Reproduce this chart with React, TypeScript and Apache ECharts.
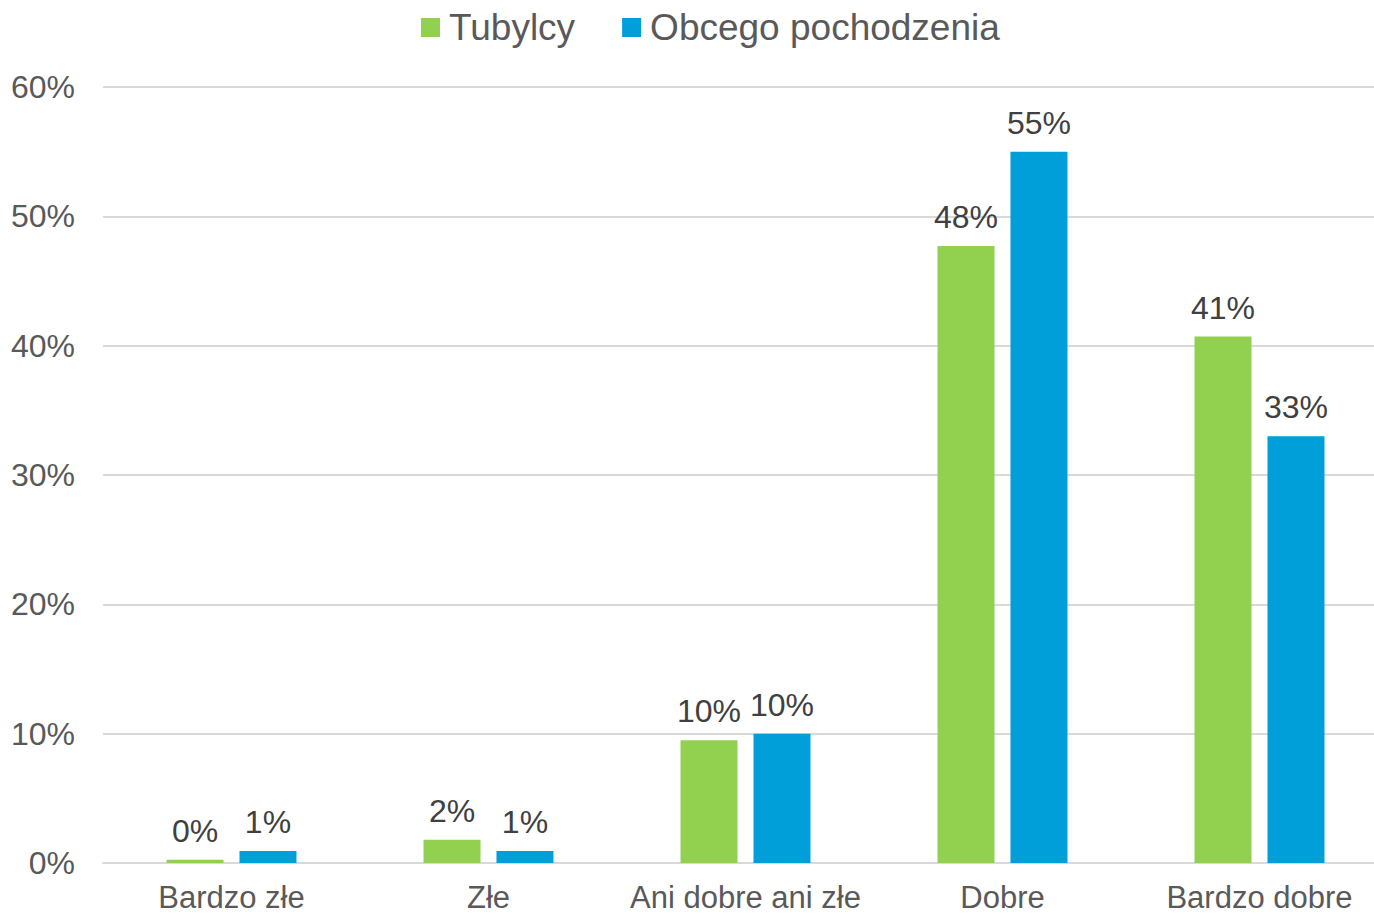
import React, { useEffect, useRef } from "react";
import * as echarts from "echarts";

const categories = ["Bardzo złe", "Złe", "Ani dobre ani złe", "Dobre", "Bardzo dobre"];
const tubylcy = [0.25, 1.8, 9.5, 47.7, 40.7];
const obcego = [0.93, 0.93, 10.0, 55.0, 33.0];
const seriesNames = ["Tubylcy", "Obcego pochodzenia"];

export default function App() {
  const ref = useRef<HTMLDivElement>(null);
  useEffect(() => {
    document.body.style.margin = "0";
    const chart = echarts.init(ref.current!, null, { renderer: "svg" });
    const font = "'Liberation Sans', Arial, sans-serif";
    const label = {
      show: true,
      position: "top",
      distance: 13,
      color: "#404040",
      fontSize: 32,
      fontFamily: font,
      formatter: (p: any) => Math.round(p.value) + "%",
    };
    chart.setOption({
      animation: false,
      backgroundColor: "#ffffff",
      legend: {
        top: 9,
        left: 421,
        padding: 0,
        itemWidth: 19,
        itemHeight: 19,
        itemGap: 47,
        icon: "rect",
        textStyle: { fontSize: 37, color: "#595959", fontFamily: font, padding: [0, 0, 0, 4] },
        data: seriesNames,
      },
      grid: { left: 103, width: 1285, top: 87, height: 776, containLabel: false, outerBoundsMode: "none" },
      xAxis: {
        type: "category",
        data: categories,
        axisLine: { lineStyle: { color: "#d9d9d9", width: 2 } },
        axisTick: { show: false },
        axisLabel: { interval: 0, fontSize: 31, lineHeight: 32, color: "#595959", fontFamily: font, margin: 18 },
      },
      yAxis: {
        type: "value",
        min: 0,
        max: 60,
        interval: 10,
        axisLine: { show: false },
        axisTick: { show: false },
        axisLabel: { fontSize: 32, color: "#595959", fontFamily: font, margin: 28, formatter: "{value}%" },
        splitLine: { lineStyle: { color: "#d9d9d9", width: 2 } },
      },
      series: [
        { name: seriesNames[0], type: "bar", data: tubylcy, barWidth: 57, barGap: "28%", itemStyle: { color: "#92D050" }, label },
        { name: seriesNames[1], type: "bar", data: obcego, barWidth: 57, barGap: "28%", itemStyle: { color: "#009FDA" }, label },
      ],
    });
    return () => chart.dispose();
  }, []);
  return <div ref={ref} style={{ width: 1374, height: 915, overflow: "hidden" }} />;
}
